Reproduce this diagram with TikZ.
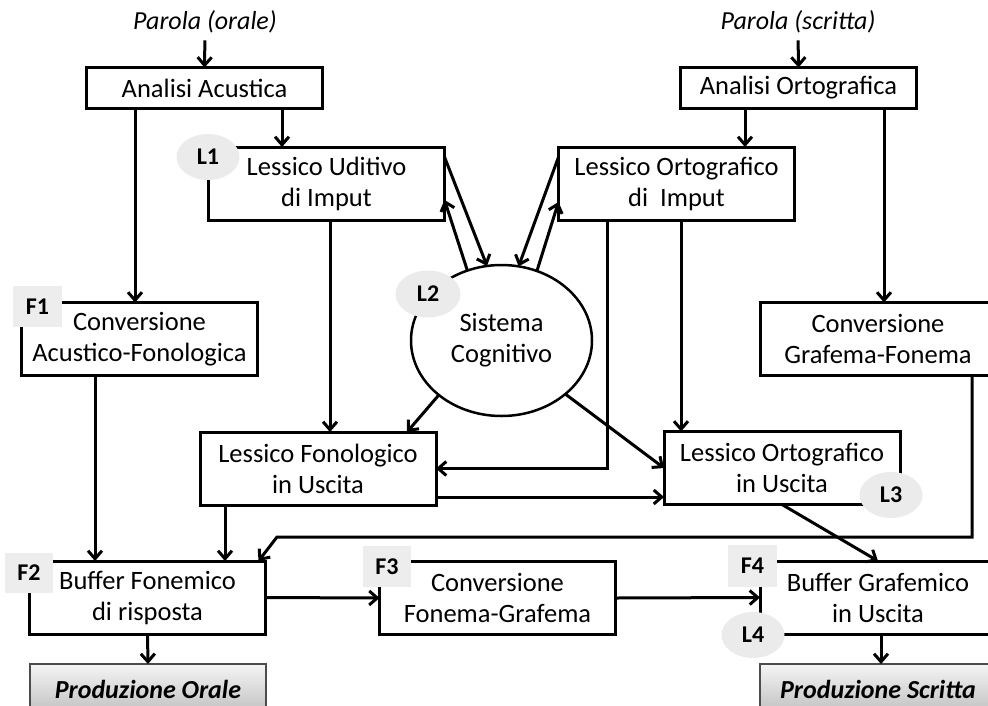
\documentclass[tikz,border=0pt]{standalone}
\usepackage{fontspec}
\setmainfont{Carlito}
\usetikzlibrary{arrows.meta,shapes.geometric,calc}
\begin{document}
\begin{tikzpicture}[x=1pt,y=-1pt,
  every node/.style={inner sep=0pt, outer sep=0pt},
  box/.style={draw, line width=3pt, minimum width=236pt, minimum height=73pt,
    align=center, font=\fontsize{26.5}{31}\selectfont},
  sbox/.style={box, minimum height=41pt},
  arr/.style={line width=3pt, -{Straight Barb[length=8pt,width=14pt]}},
  flab/.style={fill=gray!14, minimum width=49pt, minimum height=41pt,
    font=\fontsize{24}{24}\selectfont\bfseries},
  llab/.style={ellipse, fill=gray!16, minimum width=63pt, minimum height=46pt,
    font=\fontsize{24}{24}\selectfont\bfseries},
  prod/.style={draw=black!70, line width=1.2pt, top color=gray!8, bottom color=gray!50,
    minimum width=236pt, minimum height=50pt,
    font=\fontsize{26}{26}\selectfont\bfseries\itshape},
  intext/.style={font=\fontsize{26}{26}\selectfont\itshape}
]
\useasboundingbox (0,0) rectangle (988,705);
\clip (0,0) rectangle (988,705);

% input words
\node[intext] (pw) at (205,22) {Parola (orale)};
\node[intext] (pws) at (798,22) {Parola (scritta)};

% boxes
\node[sbox] (aa) at (204.5,88) {Analisi Acustica};
\node[sbox] (ao) at (798.5,88) {Analisi Ortografica};
\node[box] (lui) at (326.5,183.5) {Lessico Uditivo\\di Imput};
\node[box] (loi) at (676.5,183.5) {Lessico Ortografico\\di\ \ Imput};
\node[box] (caf) at (139.5,339) {Conversione\\Acustico-Fonologica};
\node[box] (cgf) at (878,339) {Conversione\\Grafema-Fonema};
\node[draw, ellipse, line width=2.5pt, minimum width=181pt, minimum height=151pt,
  align=center, font=\fontsize{26.5}{31}\selectfont] (sc) at (501.5,340.5) {Sistema\\Cognitivo};
\node[box] (lfu) at (318,468.5) {Lessico Fonologico\\in Uscita};
\node[box] (lou) at (782,468) {Lessico Ortografico\\in Uscita};
\node[box] (bf) at (147.5,597.5) {Buffer Fonemico\\di risposta};
\node[box] (cfg) at (497.5,598) {Conversione\\Fonema-Grafema};
\node[box] (bg) at (878,597.5) {Buffer Grafemico\\in Uscita};
\node[prod] (po) at (148,689) {Produzione Orale};
\node[prod] (ps) at (878,689) {Produzione Scritta};

% connectors
\draw[arr, shorten <=7pt] (pw.south) -- (aa.north);
\draw[arr, shorten <=7pt] (pws.south) -- (ao.north);
\draw[arr] ([xshift=77.5pt]aa.south) -- ([xshift=77.5pt]aa.south |- lui.north);
\draw[arr] ([xshift=-69.5pt]aa.south) -- ([xshift=-69.5pt]aa.south |- caf.north);
\draw[arr] ([xshift=-53.5pt]ao.south) -- ([xshift=-53.5pt]ao.south |- loi.north);
\draw[arr] ([xshift=85.5pt]ao.south) -- ([xshift=85.5pt]ao.south |- cgf.north);

\draw[arr] ([yshift=-10pt]lui.north east) -- (sc.101);
\draw[arr] (sc.116) -- ([yshift=-16.5pt]lui.east);
\draw[arr] ([yshift=-10pt]loi.north west) -- (sc.77);
\draw[arr] (sc.63) -- ([yshift=-18.5pt]loi.west);

\draw[arr] ([xshift=3.5pt]lui.south) -- ([xshift=3.5pt]lui.south |- lfu.north);
\draw[arr] ([xshift=4.5pt]loi.south) -- ([xshift=4.5pt]loi.south |- lou.north);
\draw[arr] ([xshift=-69.5pt]loi.south) |- (lfu.east);

\draw[arr] (sc.221) -- ([xshift=89pt]lfu.north);
\draw[arr] (sc.320) -- (lou.west);
\draw[arr] ([yshift=-28.5pt]lfu.east) -- ([yshift=-28.5pt]lfu.east -| lou.west);

\draw[arr] ([xshift=-44.5pt]caf.south) -- ([xshift=-44.5pt]caf.south |- bf.north);
\draw[arr] ([xshift=-93pt]lfu.south) -- ([xshift=-93pt]lfu.south |- bf.north);

\coordinate (bend) at (277,537);
\draw[arr] ([xshift=94pt]cgf.south) |- (bend) -- ([xshift=-7pt]bf.north east);

\draw[arr] (lou.south) -- (bg.north);
\draw[arr] (bf.east) -- (cfg.west);
\draw[arr] (cfg.east) -- (bg.west);
\draw[arr] (bf.south) -- (po.north);
\draw[arr] ([xshift=3pt]bg.south) -- ([xshift=3pt]bg.south |- ps.north);

% labels
\node[llab] (l1) at (208,157) {L1};
\node[llab, minimum width=65pt, minimum height=47pt] (l2) at (428,294) {L2};
\node[llab] (l3) at (891,495) {L3};
\node[llab] (l4) at (753,635) {L4};
\node[flab] (f1) at (37.5,306.5) {F1};
\node[flab, minimum width=48pt, minimum height=40pt] (f2) at (29,573) {F2};
\node[flab, minimum width=48pt] (f3) at (387,566.5) {F3};
\node[flab, minimum height=42pt] (f4) at (752.5,566) {F4};
\end{tikzpicture}
\end{document}
